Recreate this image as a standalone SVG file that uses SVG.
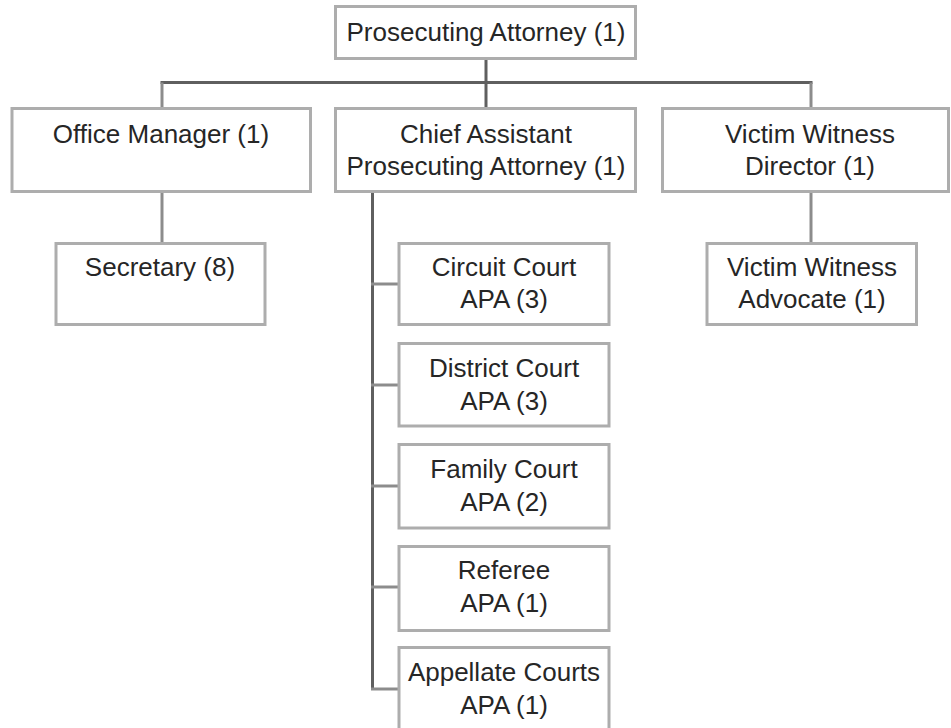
<svg xmlns="http://www.w3.org/2000/svg" width="951" height="728" viewBox="0 0 951 728">
<style>
.box{fill:#fff;stroke:#adadad;stroke-width:3}
.t{font-family:"Liberation Sans",Arial,sans-serif;font-size:26px;fill:#262626;text-anchor:middle}
.main{stroke:#5f5f5f;stroke-width:3;fill:none}
.sub{stroke:#8c8c8c;stroke-width:3;fill:none}
</style>
<rect width="951" height="728" fill="#fff"/>
<g id="connectors">
<line class="main" x1="486" y1="58.5" x2="486" y2="108.5"/>
<line class="main" x1="160.5" y1="82.5" x2="812.5" y2="82.5"/>
<line class="sub" x1="162" y1="82.5" x2="162" y2="108.5"/>
<line class="sub" x1="811" y1="82.5" x2="811" y2="108.5"/>
<line class="sub" x1="162" y1="191.5" x2="162" y2="243.5"/>
<line class="sub" x1="811" y1="191.5" x2="811" y2="243.5"/>
<line class="main" x1="372.5" y1="191.5" x2="372.5" y2="690"/>
<line class="sub" x1="371" y1="284" x2="399" y2="284"/>
<line class="sub" x1="371" y1="385" x2="399" y2="385"/>
<line class="sub" x1="371" y1="486" x2="399" y2="486"/>
<line class="sub" x1="371" y1="587" x2="399" y2="587"/>
<line class="sub" x1="371" y1="689" x2="399" y2="689"/>
</g>
<g id="prosecuting-attorney">
<rect class="box" x="335.5" y="6.5" width="300" height="52"/>
<text class="t" x="486" y="41">Prosecuting Attorney (1)</text>
</g>
<g id="office-manager">
<rect class="box" x="12" y="108.5" width="298.5" height="83"/>
<text class="t" x="161" y="143">Office Manager (1)</text>
</g>
<g id="chief-assistant">
<rect class="box" x="335.5" y="108.5" width="300" height="83"/>
<text class="t" x="486" y="143">Chief Assistant</text>
<text class="t" x="486" y="175">Prosecuting Attorney (1)</text>
</g>
<g id="victim-witness-director">
<rect class="box" x="662.5" y="108.5" width="286" height="83"/>
<text class="t" x="810" y="143">Victim Witness</text>
<text class="t" x="810" y="175">Director (1)</text>
</g>
<g id="secretary">
<rect class="box" x="56" y="243.5" width="209" height="81"/>
<text class="t" x="160" y="276">Secretary (8)</text>
</g>
<g id="circuit-court">
<rect class="box" x="399" y="243.5" width="210" height="81"/>
<text class="t" x="504" y="276">Circuit Court</text>
<text class="t" x="504" y="308">APA (3)</text>
</g>
<g id="victim-witness-advocate">
<rect class="box" x="707" y="243.5" width="209.5" height="81"/>
<text class="t" x="812" y="276">Victim Witness</text>
<text class="t" x="812" y="308">Advocate (1)</text>
</g>
<g id="district-court">
<rect class="box" x="399" y="343.5" width="210" height="82.5"/>
<text class="t" x="504" y="377">District Court</text>
<text class="t" x="504" y="410">APA (3)</text>
</g>
<g id="family-court">
<rect class="box" x="399" y="444.5" width="210" height="83.5"/>
<text class="t" x="504" y="478">Family Court</text>
<text class="t" x="504" y="511">APA (2)</text>
</g>
<g id="referee">
<rect class="box" x="399" y="546.5" width="210" height="84"/>
<text class="t" x="504" y="579">Referee</text>
<text class="t" x="504" y="612">APA (1)</text>
</g>
<g id="appellate-courts">
<rect class="box" x="399" y="647.5" width="210" height="95"/>
<text class="t" x="504" y="681">Appellate Courts</text>
<text class="t" x="504" y="714">APA (1)</text>
</g>
</svg>
